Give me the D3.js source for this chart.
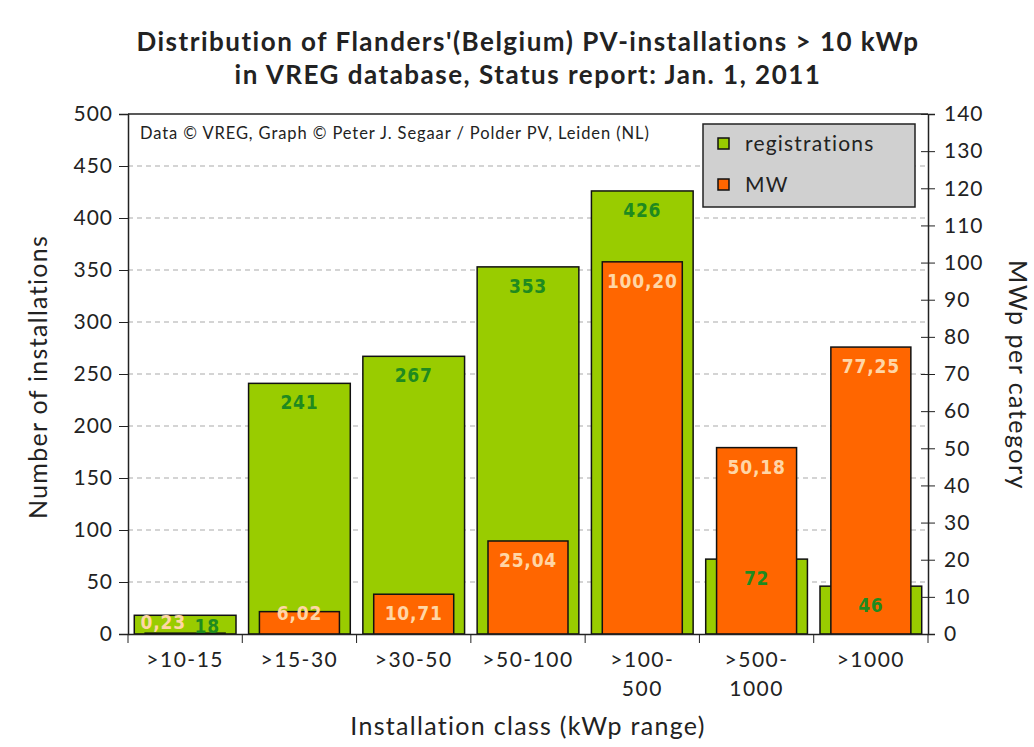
<!DOCTYPE html>
<html>
<head>
<meta charset="utf-8">
<script src="https://cdn.jsdelivr.net/npm/d3@7"></script>
<style>
  body { margin: 0; background: #fff; }
  text { font-family: Lato, "Open Sans", sans-serif; fill: #222; }
</style>
</head>
<body>
<svg id="chart" width="1034" height="747"></svg>
<script>
const categories = [">10-15", ">15-30", ">30-50", ">50-100", ">100-|500", ">500-|1000", ">1000"]
const registrations = [18, 241, 267, 353, 426, 72, 46]
const mw = [0.23, 6.02, 10.71, 25.04, 100.20, 50.18, 77.25]
const leftTicks = d3.range(0, 501, 50)
const rightTicks = d3.range(0, 141, 10)

const svg = d3.select("#chart")
const pLeft = 128, pRight = 928, pTop = 114, pBottom = 634

const x = d3.scaleBand().domain(categories).range([pLeft, pRight])
const yL = d3.scaleLinear().domain([0, 500]).range([pBottom, pTop])
const yR = d3.scaleLinear().domain([0, 140]).range([pBottom, pTop])

// title
svg.append("text").attr("x", 528).attr("y", 51).attr("text-anchor", "middle")
  .style("font-size", "26px").style("font-weight", "bold").style("letter-spacing", "1.5px")
  .text("Distribution of Flanders'(Belgium) PV-installations > 10 kWp")
svg.append("text").attr("x", 528).attr("y", 84).attr("text-anchor", "middle")
  .style("font-size", "26px").style("font-weight", "bold").style("letter-spacing", "1.5px")
  .text("in VREG database, Status report: Jan. 1, 2011")

// dashed grid
svg.append("g").selectAll("line").data(leftTicks.filter(d => d > 0 && d < 500)).join("line")
  .attr("x1", pLeft).attr("x2", pRight)
  .attr("y1", d => yL(d)).attr("y2", d => yL(d))
  .attr("stroke", "#aaa").attr("stroke-dasharray", "5,4").attr("stroke-width", 1.2)

svg.append("text").attr("x", 140).attr("y", 139)
  .style("font-size", "16.5px").style("letter-spacing", "0.9px")
  .text("Data \u00a9 VREG, Graph \u00a9 Peter J. Segaar / Polder PV, Leiden (NL)")

// bars
const gw = x.bandwidth() * 0.89, ow = x.bandwidth() * 0.7
svg.append("g").selectAll("rect").data(registrations).join("rect")
  .attr("x", (d, i) => x(categories[i]) + (x.bandwidth() - gw) / 2)
  .attr("width", gw)
  .attr("y", d => yL(d)).attr("height", d => pBottom - yL(d))
  .attr("fill", "#99cc00").attr("stroke", "#111").attr("stroke-width", 1.5)

svg.append("g").selectAll("rect").data(mw).join("rect")
  .attr("x", (d, i) => x(categories[i]) + (x.bandwidth() - ow) / 2)
  .attr("width", ow)
  .attr("y", d => yR(d)).attr("height", d => pBottom - yR(d))
  .attr("fill", "#ff6600").attr("stroke", "#111").attr("stroke-width", 1.5)

// value labels
const lab = "font-family:'DejaVu Sans Condensed','DejaVu Sans',sans-serif;font-stretch:condensed;font-weight:bold;font-size:19px;letter-spacing:0.8px"
svg.append("g").selectAll("text").data(registrations).join("text")
  .attr("x", (d, i) => x(categories[i]) + x.bandwidth() / 2 + (i === 0 ? 22 : 0))
  .attr("y", d => Math.min(yL(d) + 26, pBottom - 1))
  .attr("text-anchor", "middle").attr("style", lab + ";fill:#1f8a1f")
  .text(d => d)

svg.append("g").selectAll("text").data(mw).join("text")
  .attr("x", (d, i) => x(categories[i]) + x.bandwidth() / 2 - (i === 0 ? 22 : 0))
  .attr("y", (d, i) => Math.min(yR(d) + 26, pBottom - (i === 0 ? 5 : 14)))
  .attr("text-anchor", "middle").attr("style", lab + ";fill:#ffd6a6")
  .text(d => d.toFixed(2).replace(".", ","))

// frame
svg.append("line").attr("x1", pLeft).attr("x2", pRight).attr("y1", pTop).attr("y2", pTop)
  .attr("stroke", "#222").attr("stroke-width", 1.5)

// left axis
const axL = svg.append("g").attr("transform", `translate(${pLeft},0)`)
  .call(d3.axisLeft(yL).tickValues(leftTicks).tickSize(9).tickPadding(6))
axL.selectAll("text").style("font-size", "21px").style("letter-spacing", "1px")

// right axis
const axR = svg.append("g").attr("transform", `translate(${pRight},0)`)
  .call(d3.axisRight(yR).tickValues(rightTicks).tickSize(7).tickPadding(9))
axR.selectAll(".tick line").attr("x1", -7)
axR.selectAll("text").style("font-size", "21px").style("letter-spacing", "1px")

// bottom axis
const axB = svg.append("g").attr("transform", `translate(0,${pBottom})`)
  .call(d3.axisBottom(x).tickSize(0).tickPadding(18))
axB.selectAll(".tick text").style("font-size", "21px").style("letter-spacing", "1.5px").text(null)
  .each(function(d) {
    const t = d3.select(this)
    d.split("|").forEach((s, k) => t.append("tspan").attr("x", 0).attr("dy", k ? "1.4em" : "0.71em").text(s))
  })
axB.append("g").selectAll("line").data(categories.concat(["end"])).join("line")
  .attr("x1", (d, i) => pLeft + i * x.bandwidth()).attr("x2", (d, i) => pLeft + i * x.bandwidth())
  .attr("y1", 0).attr("y2", 9).attr("stroke", "#222")

svg.selectAll(".domain").attr("stroke", "#222").attr("stroke-width", 1.5)
svg.selectAll(".tick line").attr("stroke", "#222")

// axis titles
svg.append("text").attr("transform", "translate(47,377) rotate(-90)")
  .attr("text-anchor", "middle").style("font-size", "25px").style("letter-spacing", "1.3px")
  .text("Number of installations")
svg.append("text").attr("transform", "translate(1009,375) rotate(90)")
  .attr("text-anchor", "middle").style("font-size", "25px").style("letter-spacing", "1.5px")
  .text("MWp per category")
svg.append("text").attr("x", 528).attr("y", 735)
  .attr("text-anchor", "middle").style("font-size", "25px").style("letter-spacing", "1.3px")
  .text("Installation class (kWp range)")

// legend
const lg = svg.append("g").attr("transform", "translate(703,124)")
lg.append("rect").attr("width", 212).attr("height", 83)
  .attr("fill", "#d0d0d0").attr("stroke", "#222").attr("stroke-width", 1.5)
const legendItems = [["registrations", "#99cc00"], ["MW", "#ff6600"]]
legendItems.forEach(([name, col], i) => {
  lg.append("rect").attr("x", 15).attr("y", 14 + i * 41).attr("width", 11).attr("height", 11)
    .attr("fill", col).attr("stroke", "#111").attr("stroke-width", 1.5)
  lg.append("text").attr("x", 42).attr("y", 27 + i * 41).style("font-size", "21px")
    .style("letter-spacing", "1.2px").text(name)
})
</script>
</body>
</html>
